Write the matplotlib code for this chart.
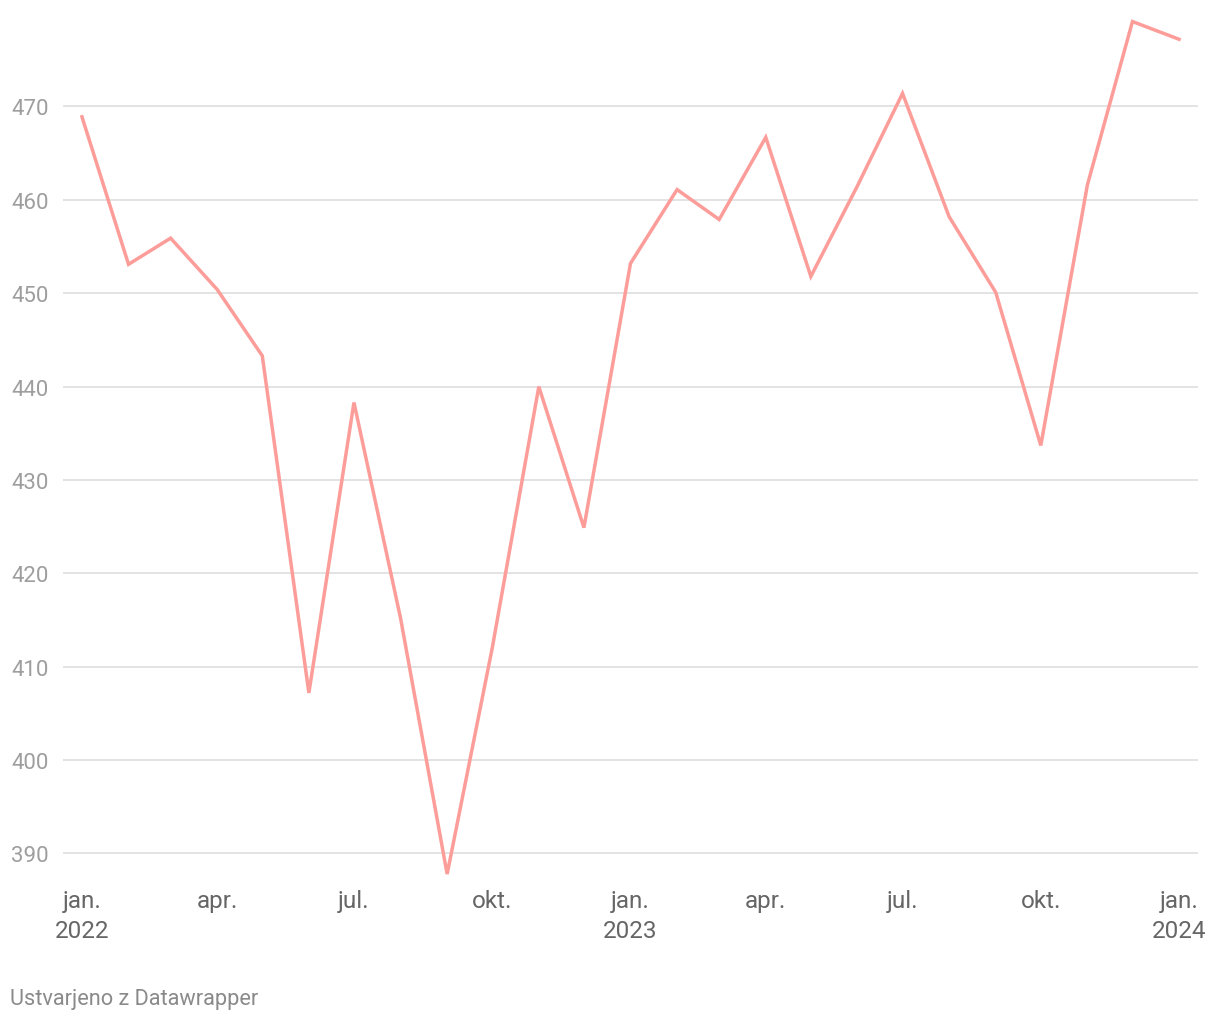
import numpy as np
import pandas as pd
import matplotlib.pyplot as plt
import matplotlib.dates as mdates

plt.rcParams['font.family'] = ['Roboto', 'DejaVu Sans']

months = pd.date_range('2022-01-01', periods=25, freq='MS')
values = [468.9, 453.1, 455.9, 450.4, 443.3, 407.2, 438.3, 415.2, 387.8, 412.0,
          440.0, 424.9, 453.2, 461.1, 457.9, 466.7, 451.8, 461.5, 471.4, 458.2,
          450.1, 433.7, 461.6, 479.1, 477.2]

yticks = list(range(390, 471, 10))
xtick_dates = pd.to_datetime(['2022-01-01', '2022-04-01', '2022-07-01', '2022-10-01',
                              '2023-01-01', '2023-04-01', '2023-07-01', '2023-10-01',
                              '2024-01-01'])
xtick_labels = ['jan.\n2022', 'apr.', 'jul.', 'okt.', 'jan.\n2023', 'apr.', 'jul.',
                'okt.', 'jan.\n2024']

fig = plt.figure(figsize=(12.2, 10.2), dpi=100)
W, H = 1220, 1020
ax = fig.add_axes([63 / W, 1 - 881.5 / H, 1135 / W, 870 / H])

for y in yticks:
    ax.axhline(y, color='#e0e0e0', lw=1.3, zorder=1)

ax.plot(months, values, color='#fc9d9a', lw=2.5, zorder=3,
        solid_joinstyle='miter')

x0 = pd.Timestamp('2022-01-01') - pd.Timedelta(days=12.6)
x1 = pd.Timestamp('2024-01-01') + pd.Timedelta(days=12.6)
ax.set_xlim(x0, x1)
ax.set_ylim(387.108, 480.281)

ax.set_yticks(yticks)
ax.set_yticklabels([str(v) for v in yticks])
ax.set_xticks(xtick_dates)
ax.set_xticklabels(xtick_labels, linespacing=1.38)

ax.tick_params(axis='y', length=0, pad=10, labelsize=16, labelcolor='#9e9e9e')
ax.tick_params(axis='x', length=0, pad=6, labelsize=17.5, labelcolor='#666666')
for s in ax.spines.values():
    s.set_visible(False)

fig.text(10 / W, 1 - 999.5 / H, 'Ustvarjeno z Datawrapper', fontsize=15.7,
         color='#8a8a8a', ha='left', va='center')

fig.savefig('out.png', dpi=100, facecolor='white')
